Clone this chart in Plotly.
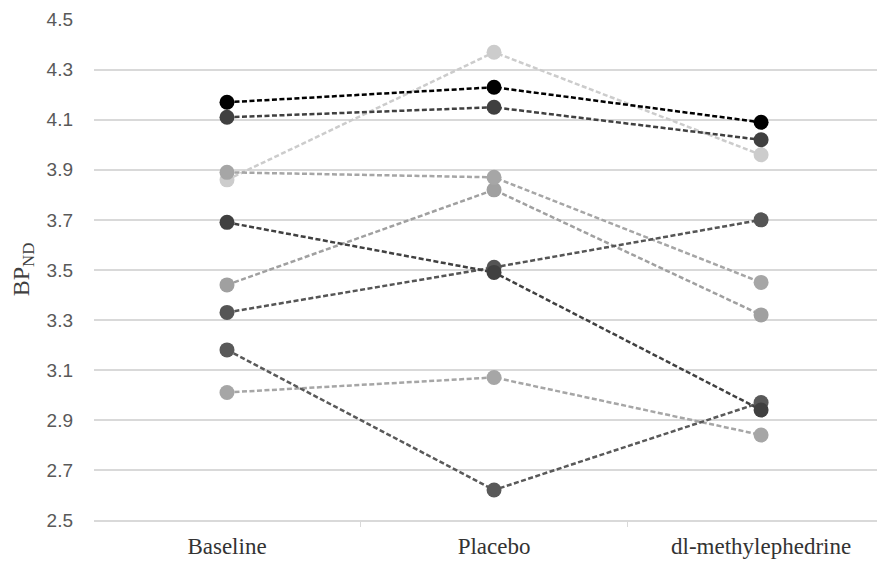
import plotly.graph_objects as go

categories = ["Baseline", "Placebo", "dl-methylephedrine"]

s1 = [4.17, 4.23, 4.09]
s2 = [4.11, 4.15, 4.02]
s3 = [3.86, 4.37, 3.96]
s4 = [3.89, 3.87, 3.45]
s5 = [3.44, 3.82, 3.32]
s6 = [3.69, 3.49, 2.94]
s7 = [3.33, 3.51, 3.70]
s8 = [3.01, 3.07, 2.84]
s9 = [3.18, 2.62, 2.97]

y_ticks = [2.5, 2.7, 2.9, 3.1, 3.3, 3.5, 3.7, 3.9, 4.1, 4.3, 4.5]
y_tick_labels = ["2.5", "2.7", "2.9", "3.1", "3.3", "3.5", "3.7", "3.9", "4.1", "4.3", "4.5"]

series = [
    (s3, "#cccccc"),
    (s8, "#a6a6a6"),
    (s5, "#a0a0a0"),
    (s4, "#a6a6a6"),
    (s9, "#595959"),
    (s7, "#555555"),
    (s6, "#404040"),
    (s2, "#404040"),
    (s1, "#000000"),
]

fig = go.Figure()
for vals, col in series:
    fig.add_trace(go.Scatter(
        x=categories, y=vals, mode="lines+markers",
        line=dict(color=col, width=2.5, dash="5px,2.5px"),
        marker=dict(color=col, size=15),
        showlegend=False, hoverinfo="skip",
    ))

fig.update_layout(
    width=877, height=554,
    margin=dict(l=86, r=0, t=11, b=42),
    paper_bgcolor="white", plot_bgcolor="white",
    xaxis=dict(
        type="category", range=[-0.498, 2.464],
        showgrid=False, showline=True, linecolor="#d9d9d9", linewidth=1.5,
        ticks="outside", tickson="boundaries", ticklen=5, tickcolor="#d9d9d9",
        tickfont=dict(family="Liberation Serif, Times New Roman, serif", size=23, color="#333333"),
        ticklabelstandoff=5,
    ),
    yaxis=dict(
        range=[2.5, 4.503], tickvals=y_ticks, ticktext=y_tick_labels,
        showgrid=True, gridcolor="#d9d9d9", gridwidth=1.5,
        zeroline=False, showline=False, ticks="",
        tickfont=dict(family="Liberation Sans", size=19, color="#595959"),
        ticklabelstandoff=20,
        title=dict(text="BP<sub>ND</sub>", standoff=10,
                   font=dict(family="Liberation Serif, Times New Roman, serif", size=24, color="#404040")),
    ),
)

fig.write_html("out.html")
